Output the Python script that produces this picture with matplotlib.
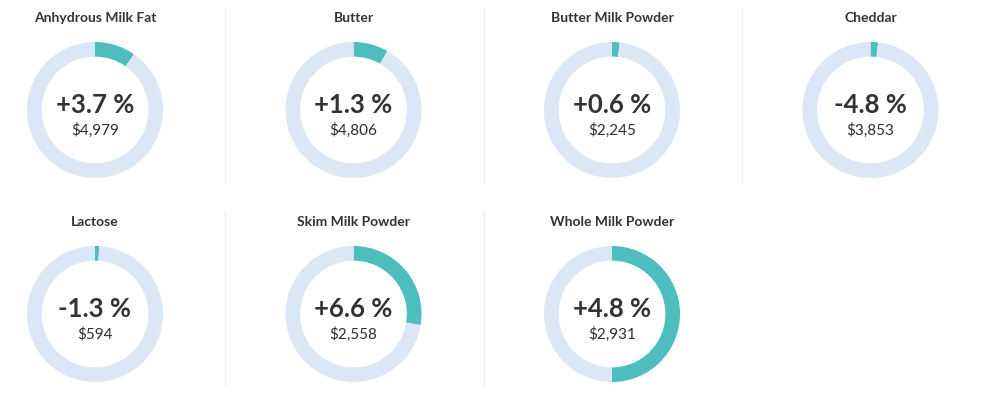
import matplotlib
matplotlib.use("Agg")
import matplotlib.pyplot as plt

# products, price change, price, and the arc share shown in each ring
products = ["Anhydrous Milk Fat", "Butter", "Butter Milk Powder", "Cheddar",
            "Lactose", "Skim Milk Powder", "Whole Milk Powder"]
changes = ["+3.7 %", "+1.3 %", "+0.6 %", "-4.8 %", "-1.3 %", "+6.6 %", "+4.8 %"]
prices = ["$4,979", "$4,806", "$2,245", "$3,853", "$594", "$2,558", "$2,931"]
arc_share = [0.097, 0.083, 0.018, 0.018, 0.010, 0.276, 0.50]

TEAL = "#4dbdbd"
RING = "#dce7f5"
DARK = "#333333"

plt.rcParams['font.family'] = ['Lato', 'DejaVu Sans']

W, H = 1000, 396
fig = plt.figure(figsize=(W / 100, H / 100), dpi=100)

col_x = [95, 353.5, 612, 870.5]   # donut centres in pixels
row_y = [110, 314]
R = 68                             # outer radius, px

for i, name in enumerate(products):
    r, c = divmod(i, 4)
    cx, cy = col_x[c], row_y[r]
    ax = fig.add_axes([(cx - R) / W, 1 - (cy + R) / H, 2 * R / W, 2 * R / H])
    frac = arc_share[i]
    ax.pie([frac, 1 - frac], colors=[TEAL, RING], startangle=90,
           counterclock=False, radius=1,
           wedgeprops=dict(width=0.215, linewidth=0))
    ax.set_xlim(-1, 1)
    ax.set_ylim(-1, 1)
    ax.set_aspect("equal")
    ax.axis("off")
    ax.text(0, 0.08, changes[i], ha="center", va="center", fontsize=18.5,
            fontweight="bold", color=DARK)
    ax.text(0, -0.30, prices[i], ha="center", va="center", fontsize=11,
            color="#2e2e2e")
    fig.text(cx / W, 1 - (cy - 92) / H, name, ha="center", va="center",
             fontsize=10, fontweight="bold", color=DARK)

# thin separators between the cards
for r, (y0, y1) in enumerate([(8, 182), (211, 385)]):
    n_sep = 3 if r == 0 else 2
    for sx in [225, 484, 742][:n_sep]:
        fig.add_artist(plt.Line2D([sx / W, sx / W], [1 - y1 / H, 1 - y0 / H],
                                  color="#ececec", linewidth=0.8))

fig.savefig("out.png", dpi=100, facecolor="white")
